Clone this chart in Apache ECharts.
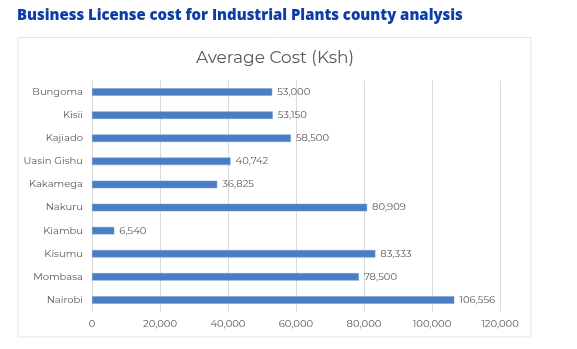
<!DOCTYPE html>
<html>
<head>
<meta charset="utf-8">
<script src="https://cdn.jsdelivr.net/npm/echarts@6/dist/echarts.min.js"></script>
<style>
  html, body { margin: 0; padding: 0; background: #ffffff; }
  #chart { width: 577px; height: 349px; }
</style>
</head>
<body>
<div id="chart"></div>
<script>
// County names, top to bottom
const counties = ['Bungoma', 'Kisii', 'Kajiado', 'Uasin Gishu', 'Kakamega', 'Nakuru', 'Kiambu', 'Kisumu', 'Mombasa', 'Nairobi'];
// Average business license cost per county (Ksh)
const avgCost = [53000, 53150, 58500, 40742, 36825, 80909, 6540, 83333, 78500, 106556];
// Cost axis ticks
const costTicks = [0, 20000, 40000, 60000, 80000, 100000, 120000];

const fmt = v => Number(v).toLocaleString('en-US');
const labelFont = '"Montserrat", "Open Sans", "Noto Sans", sans-serif';

const chart = echarts.init(document.getElementById('chart'), null, { renderer: 'canvas' });
chart.setOption({
  backgroundColor: '#ffffff',
  animation: false,
  graphic: [
    {
      type: 'rect',
      shape: { x: 18, y: 37.5, width: 513, height: 299.5 },
      style: { fill: '#ffffff', stroke: '#e4e4e4', lineWidth: 1 },
      z: -10
    },
    {
      type: 'text',
      left: 17,
      top: 8.5,
      style: {
        text: 'Business License cost for Industrial Plants county analysis',
        fill: '#0b3ea8',
        font: '800 14.9px "Open Sans", sans-serif'
      }
    }
  ],
  title: {
    text: 'Average Cost (Ksh)',
    left: 270,
    textAlign: 'center',
    top: 44,
    textStyle: { color: '#595959', fontSize: 17, fontWeight: 'normal', fontFamily: labelFont }
  },
  grid: { left: 92, right: 77, top: 80.5, bottom: 37.5, containLabel: false },
  xAxis: {
    type: 'value',
    min: costTicks[0],
    max: costTicks[costTicks.length - 1],
    interval: costTicks[1] - costTicks[0],
    axisLine: { show: false },
    axisTick: { show: false },
    splitLine: { show: true, lineStyle: { color: '#d9d9d9', width: 1 } },
    axisLabel: {
      color: '#595959', fontSize: 10, fontFamily: labelFont, margin: 8,
      formatter: v => fmt(v)
    }
  },
  yAxis: {
    type: 'category',
    data: counties,
    inverse: true,
    axisLine: { show: false },
    axisTick: { show: false },
    axisLabel: { color: '#595959', fontSize: 10, fontFamily: labelFont, margin: 9 }
  },
  series: [{
    type: 'bar',
    data: avgCost,
    barWidth: 7.5,
    itemStyle: { color: '#4a7ec4', borderColor: '#6e9ad6', borderWidth: 0.5 },
    label: {
      show: true,
      position: 'right',
      distance: 5,
      color: '#595959',
      fontSize: 10,
      fontFamily: labelFont,
      formatter: p => fmt(p.value)
    }
  }]
});
</script>
</body>
</html>
